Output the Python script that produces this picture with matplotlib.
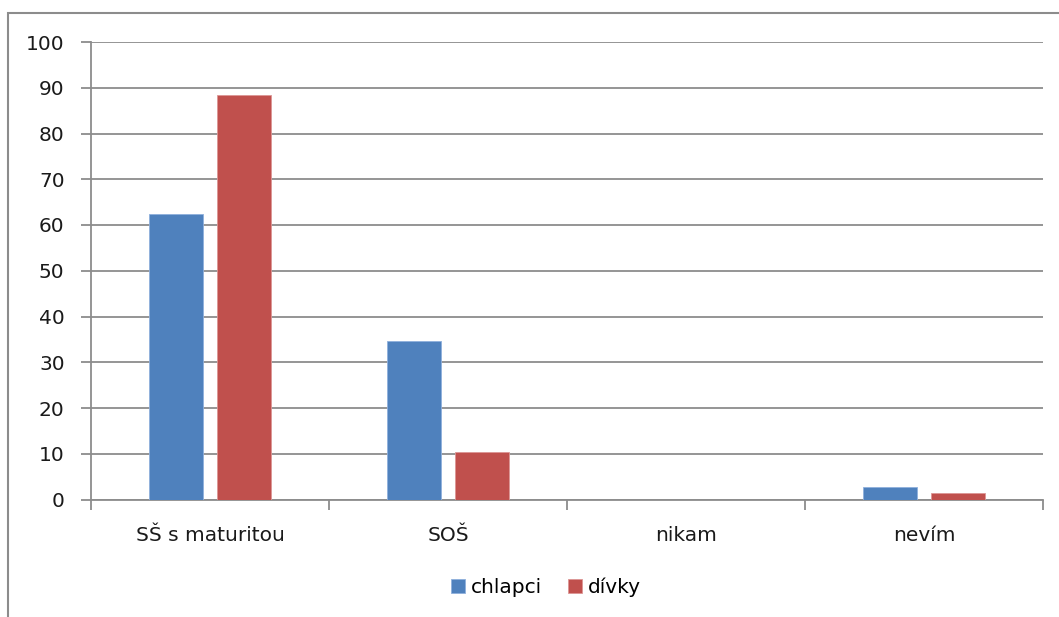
import matplotlib.pyplot as plt
import numpy as np
from matplotlib.patches import Rectangle

kategorie = ["SŠ s maturitou", "SOŠ", "nikam", "nevím"]
chlapci = [62.5, 34.6, 0, 2.8]
divky = [88.4, 10.3, 0, 1.4]

plt.rcParams["font.family"] = ["DejaVu Sans"]

fig = plt.figure(figsize=(10.59, 6.17), dpi=100)
ax = fig.add_axes([91 / 1059, 1 - 499.5 / 617, (1043 - 91) / 1059, (499.5 - 42) / 617])

# outer frame of the chart area (cut off on the right and bottom)
fig.patches.append(Rectangle((8 / 1059, -0.1), 1.2, 1 - 13 / 617 + 0.1,
                             transform=fig.transFigure, fill=False,
                             edgecolor="#8c8c8c", linewidth=1.5))

x = np.arange(len(kategorie))
w = 0.227
off = 0.141
ax.bar(x - off, chlapci, w, color="#4F81BD", edgecolor="#8fb0dc", linewidth=0.6, label="chlapci", zorder=3)
ax.bar(x + off, divky, w, color="#C0504D", edgecolor="#dc9695", linewidth=0.6, label="dívky", zorder=3)

ax.set_xlim(-0.5, len(kategorie) - 0.5)
ax.set_ylim(0, 100)
ax.set_yticks(np.arange(0, 101, 10))
ax.yaxis.grid(True, color="#8c8c8c", linewidth=1.3, zorder=0)

fs = 14.5
ax.set_xticks(x)
ax.set_xticklabels(kategorie)
ax.set_xticks(np.arange(-0.5, len(kategorie), 1), minor=True)
ax.tick_params(axis="x", which="major", length=0, pad=19, labelsize=fs, labelcolor="#1a1a1a")
ax.tick_params(axis="x", which="minor", length=7, width=1.3, color="#8c8c8c")
ax.tick_params(axis="y", length=7, width=1.3, color="#8c8c8c", pad=12, labelsize=fs, labelcolor="#1a1a1a")

for s in ["top", "right"]:
    ax.spines[s].set_visible(False)
for s in ["left", "bottom"]:
    ax.spines[s].set_color("#8c8c8c")
    ax.spines[s].set_linewidth(1.3)

fig.legend(loc="center", bbox_to_anchor=(546 / 1059, 1 - 587 / 617), ncol=2,
           frameon=False, fontsize=fs, handlelength=0.7, handleheight=0.7,
           handletextpad=0.3, columnspacing=1.3)

fig.savefig("out.png", dpi=100)
